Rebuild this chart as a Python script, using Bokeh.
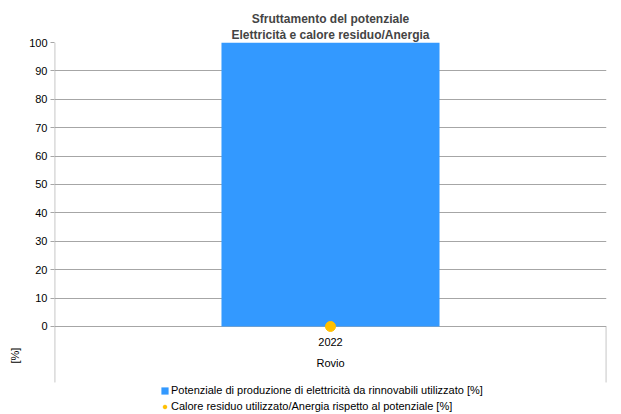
import math
from bokeh.plotting import figure
from bokeh.models import (FactorRange, Range1d, FixedTicker, Legend, LegendItem,
                          Title, ColumnDataSource)
from bokeh.core.properties import value
from bokeh.embed import file_html
from bokeh.resources import INLINE

# ---- data ----
title_lines = ["Sfruttamento del potenziale", "Elettricità e calore residuo/Anergia"]
categories = ["2022"]
group_label = "Rovio"
elec_used = [100]   # Potenziale di produzione di elettricità da rinnovabili utilizzato [%]
heat_used = [0]     # Calore residuo utilizzato/Anergia rispetto al potenziale [%]
y_ticks = [0, 10, 20, 30, 40, 50, 60, 70, 80, 90, 100]
series_names = ["Potenziale di produzione di elettricità da rinnovabili utilizzato [%]",
                "Calore residuo utilizzato/Anergia rispetto al potenziale [%]"]
unit_label = "[%]"

FONT = "Liberation Sans"
BAR_COLOR = "#3399FF"
DOT_COLOR = "#FFC000"
GRID_COLOR = "#A6A6A6"
AXIS_END = -19.72     # where the category-axis box ends
Y_MIN = -31.0         # frame extends down to hold the legend

p = figure(width=621, height=414,
           x_range=FactorRange(factors=categories, range_padding=0),
           y_range=Range1d(Y_MIN, 100),
           output_backend="svg", toolbar_location=None,
           x_axis_location=None, title=None,
           min_border_left=54, min_border_right=15,
           min_border_top=42, min_border_bottom=0)
p.outline_line_color = None

yax = p.yaxis[0]
yax.ticker = FixedTicker(ticks=y_ticks)
yax.axis_line_color = None
yax.major_tick_line_color = GRID_COLOR
yax.major_tick_out = 4
yax.major_tick_in = 0
yax.minor_tick_line_color = None
yax.major_label_text_font = FONT
yax.major_label_text_font_size = "11px"
yax.major_label_text_color = "#000000"
yax.major_label_standoff = 3

p.xgrid.visible = False
p.ygrid.ticker = FixedTicker(ticks=y_ticks)
p.ygrid.grid_line_color = GRID_COLOR

src = ColumnDataSource(dict(x=categories, elec=elec_used, heat=heat_used))
bars = p.vbar(x="x", top="elec", bottom=0, width=0.395, source=src,
              fill_color=BAR_COLOR, line_color=None)
dots = p.scatter(x="x", y="heat", size=10, source=src, marker="circle",
                 fill_color=DOT_COLOR, line_color=DOT_COLOR)

# value-axis line (left) and right group separator
p.segment(x0=[(categories[0], -0.4995), (categories[-1], 0.4995)],
          x1=[(categories[0], -0.4995), (categories[-1], 0.4995)],
          y0=[max(y_ticks), 0], y1=[AXIS_END, AXIS_END],
          line_color=GRID_COLOR, line_width=1)

# category + group labels
p.text(x=categories, y=[-5.3] * len(categories), text=categories,
       text_font=value(FONT), text_font_size="11px", text_align="center",
       text_baseline="middle", text_color="#000000")
p.text(x=[categories[0]], y=[-12.7], text=[group_label],
       text_font=value(FONT), text_font_size="11px", text_align="center",
       text_baseline="middle", text_color="#000000")

# unit label (left side, near the bottom of the axis)
p.add_layout(Title(text=unit_label, align="left", offset=51, standoff=12,
                   text_font=FONT, text_font_size="11px", text_font_style="normal",
                   text_color="#000000"), "left")

# titles
p.add_layout(Title(text=title_lines[1], align="center", text_font=FONT,
                   text_font_size="12px", text_font_style="bold", standoff=1), "above")
p.add_layout(Title(text=title_lines[0], align="center", text_font=FONT,
                   text_font_size="12px", text_font_style="bold", standoff=0), "above")

legend = Legend(items=[LegendItem(label=series_names[0], renderers=[bars]),
                       LegendItem(label=series_names[1], renderers=[dots])],
                location=(106, 1), orientation="vertical",
                glyph_width=9, glyph_height=9, label_height=14, spacing=2,
                padding=0, margin=0, label_standoff=2,
                label_text_font=FONT, label_text_font_size="11px",
                label_text_color="#000000",
                border_line_color=None, background_fill_alpha=0)
p.add_layout(legend, "center")

open("out.html", "w").write(file_html(p, INLINE))
